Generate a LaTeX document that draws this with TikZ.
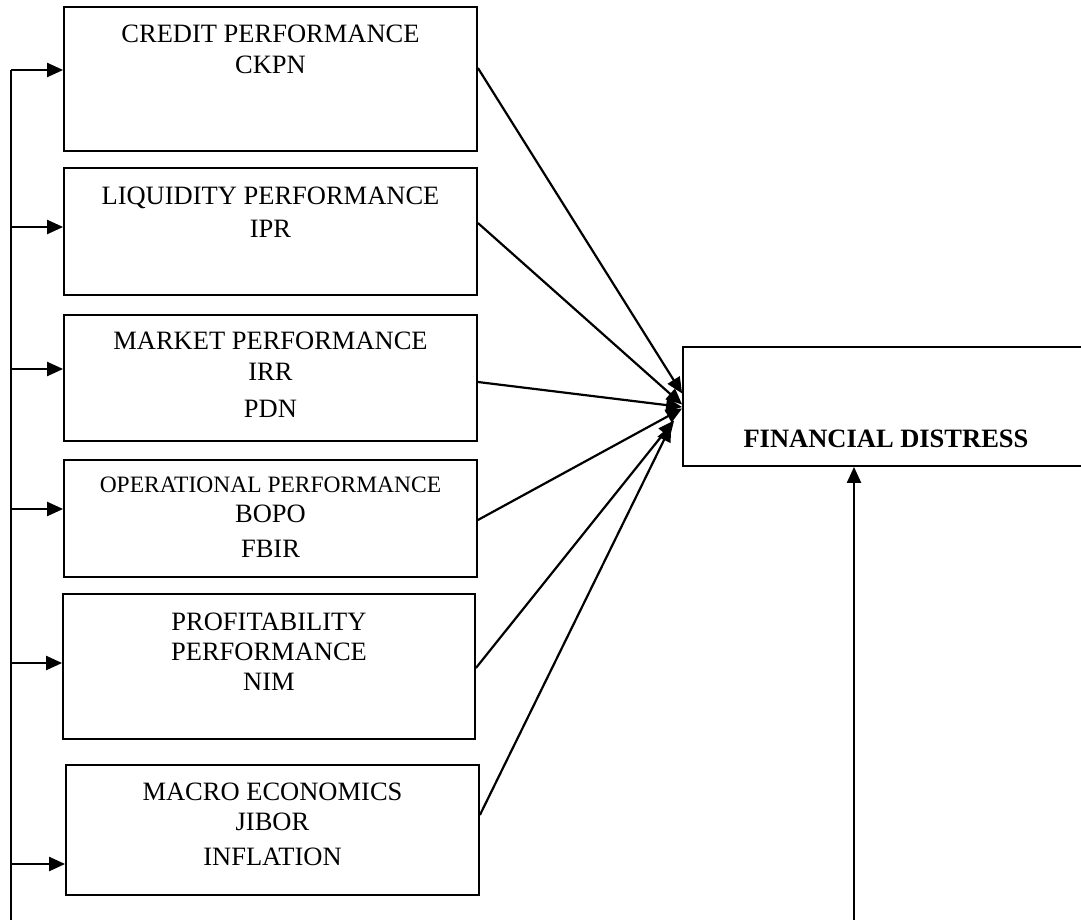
\documentclass[tikz,border=0pt]{standalone}
\usepackage{fontspec}
\setmainfont{Liberation Serif}
\usetikzlibrary{arrows.meta}
\begin{document}
\begin{tikzpicture}[x=1pt,y=-1pt,
  box/.style={draw, line width=1.8pt, inner sep=0pt},
  lbl/.style={anchor=north, inner sep=0pt, align=center, font=\fontsize{26.5}{30}\selectfont},
  arr/.style={line width=2.2pt, -{Triangle[length=16pt,width=14pt]}},
  ln/.style={line width=2.2pt}]
\useasboundingbox (0,0) rectangle (1081,920);
\clip (0,0) rectangle (1081,920);
% boxes
\node[box, minimum width=413pt, minimum height=144pt] (c1) at (270.5,79) {};
\node[box, minimum width=413pt, minimum height=127pt] (c2) at (270.5,231.5) {};
\node[box, minimum width=413pt, minimum height=126pt] (c3) at (270.5,378) {};
\node[box, minimum width=413pt, minimum height=117pt] (c4) at (270.5,518.5) {};
\node[box, minimum width=412pt, minimum height=145pt] (c5) at (269,666.5) {};
\node[box, minimum width=413pt, minimum height=130pt] (c6) at (272.5,830) {};
\node[box, minimum width=406pt, minimum height=119pt] (fd) at (886,406.5) {};
% texts
\node[lbl] (t1) at (270.5,25) {CREDIT PERFORMANCE\\[0.5pt]CKPN};
\node[lbl] (t2) at (270.5,187) {LIQUIDITY PERFORMANCE\\[3pt]IPR};
\node[lbl] (t3) at (270.5,332) {MARKET PERFORMANCE\\[1pt]IRR\\[7pt]PDN};
\node[lbl] (t4) at (270.5,477) {{\fontsize{23.5}{30}\selectfont OPERATIONAL PERFORMANCE}\\BOPO\\[5pt]FBIR};
\node[lbl] (t5) at (269,613) {PROFITABILITY\\PERFORMANCE\\NIM};
\node[lbl] (t6) at (272.5,783) {MACRO ECONOMICS\\JIBOR\\[5pt]INFLATION};
\node[anchor=base, inner sep=0pt, font=\fontsize{26.5}{30}\selectfont\bfseries] (fdt) at (886,447) {FINANCIAL DISTRESS};
% left spine and feeding arrows
\coordinate (spine) at (11,920);
\path ([yshift=9pt]c1.west) coordinate (a1);
\path ([yshift=4.5pt]c2.west) coordinate (a2);
\path ([yshift=9pt]c3.west) coordinate (a3);
\path ([yshift=9.5pt]c4.west) coordinate (a4);
\path ([yshift=3.5pt]c5.west) coordinate (a5);
\path ([yshift=-34pt]c6.west) coordinate (a6);
\draw[ln] (a1 -| spine) -- (spine);
\foreach \i in {1,...,6} {\draw[arr] (a\i -| spine) -- (a\i);}
% arrows into financial distress
\draw[arr] ([yshift=11pt]c1.east) -- ([yshift=13pt]fd.west);
\draw[arr] ([yshift=8.5pt]c2.east) -- ([yshift=2pt]fd.west);
\draw[arr] ([yshift=-4pt]c3.east) -- ([yshift=-0.5pt]fd.west);
\draw[arr] ([yshift=-1.5pt]c4.east) -- ([yshift=-2pt]fd.west);
\draw[arr] ([yshift=-1.5pt]c5.east) -- ([xshift=-8pt,yshift=-14pt]fd.west);
\draw[arr] ([yshift=15pt]c6.east) -- ([xshift=-11pt,yshift=-19pt]fd.west);
% bottom arrow
\coordinate (fdb) at (854,920);
\draw[arr] (fdb) -- (fdb |- fd.south);
\end{tikzpicture}
\end{document}
